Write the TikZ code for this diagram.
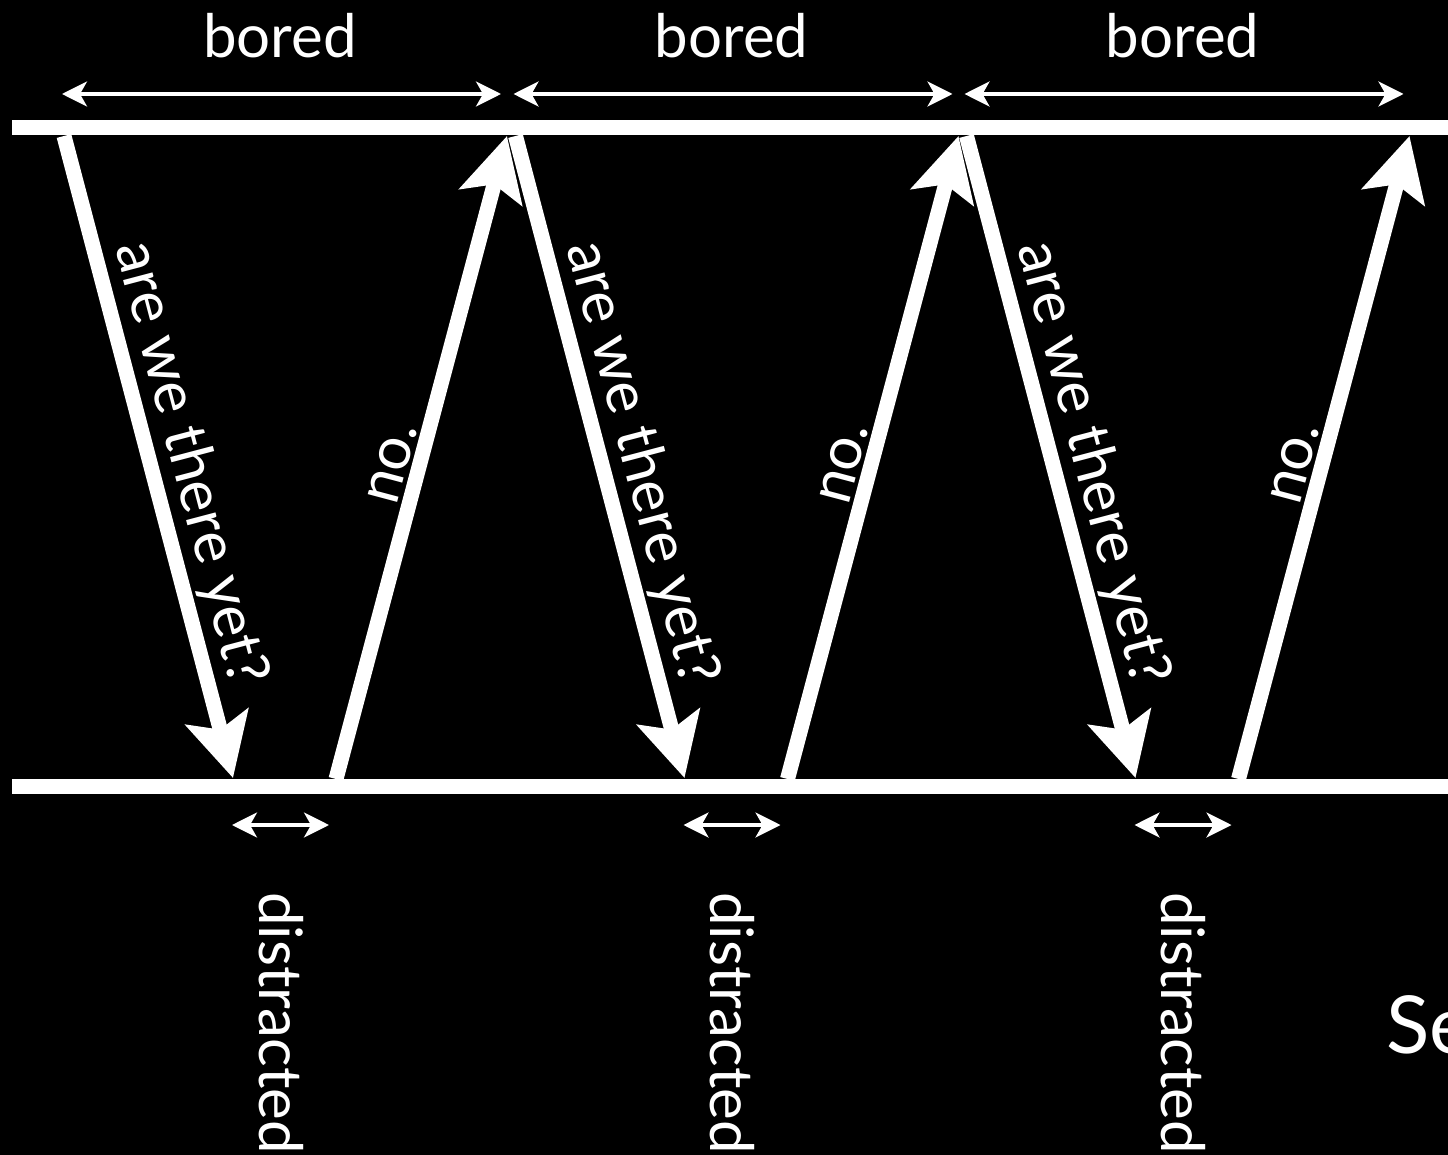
\documentclass[tikz,border=0pt]{standalone}
\usepackage{fontspec}
\setmainfont{Lato}
\usetikzlibrary{arrows.meta}
\begin{document}
\begin{tikzpicture}[x=1pt,y=-1pt,
  rail/.style={white, line width=15pt},
  msg/.style={white, line width=15pt, -{Stealth[length=63pt,width=64pt,inset=13pt]}},
  spanarrow/.style={white, line width=3.5pt, {Stealth[length=25pt,width=25pt,inset=7pt]}-{Stealth[length=25pt,width=25pt,inset=7pt]}},
  lbl/.style={text=white, font=\fontsize{60}{72}\selectfont},
]
\fill[black] (0,0) rectangle (1448,1155);
\path[use as bounding box] (0,0) rectangle (1448,1155);
\clip (0,0) rectangle (1448,1155);
\coordinate (TL) at (12,128); \coordinate (TR) at (1460,128);
\coordinate (BL) at (12,786); \coordinate (BR) at (1460,786);
\draw[rail] (TL) -- (TR);
\draw[rail] (BL) -- (BR);
\foreach \i/\dx in {1/0,2/451.5,3/902.5}{
  \coordinate (ds\i) at ({64+\dx},136);
  \coordinate (dt\i) at ({233+\dx},778);
  \coordinate (us\i) at ({336+\dx},779);
  \coordinate (ut\i) at ({507+\dx},136);
  \draw[msg] (ds\i) -- node[lbl, sloped, above, pos=0.525] (q\i) {are we there yet?} (dt\i);
  \draw[msg] (us\i) -- node[lbl, sloped, above, pos=0.48] (a\i) {no.} (ut\i);
  \coordinate (bl\i) at ({62+\dx},94);
  \coordinate (br\i) at ({501+\dx},94);
  \draw[spanarrow] (bl\i) -- (br\i);
  \node[lbl, anchor=base] (bored\i) at ({280+\dx},58) {bored};
  \coordinate (sl\i) at ({232+\dx},825);
  \coordinate (sr\i) at ({329+\dx},825);
  \draw[spanarrow] (sl\i) -- (sr\i);
  \node[lbl, rotate=-90, anchor=base] (dist\i) at ({259+\dx},1023) {distracted};
}
\node[text=white, font=\fontsize{80}{96}\selectfont, anchor=base west, inner sep=0pt] (se) at (1386,1053) {Se};
\end{tikzpicture}
\end{document}
